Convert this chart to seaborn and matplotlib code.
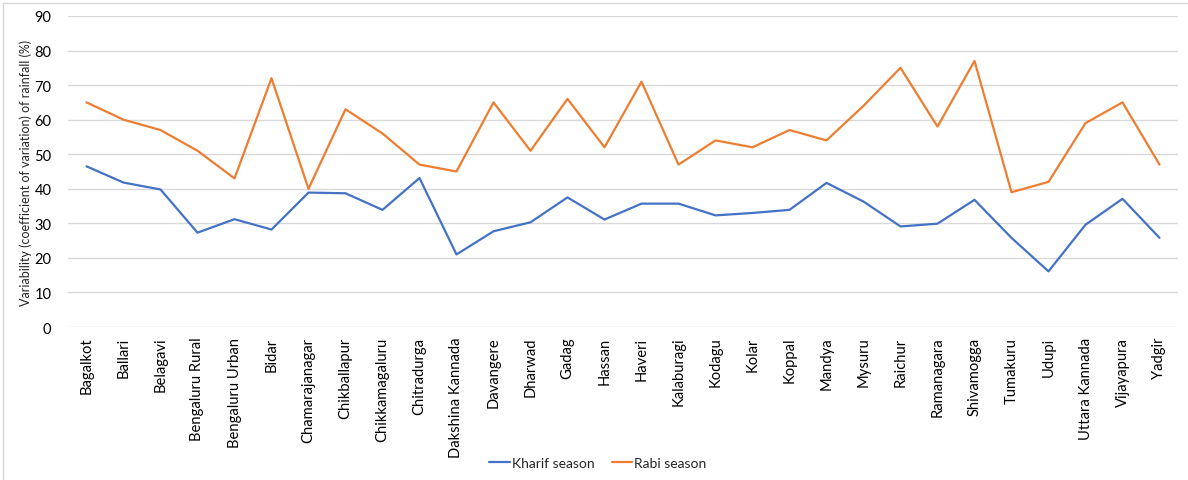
import matplotlib
matplotlib.use("Agg")
import matplotlib.pyplot as plt
import pandas as pd
import seaborn as sns
from matplotlib.lines import Line2D

districts = [
    "Bagalkot", "Ballari", "Belagavi", "Bengaluru Rural", "Bengaluru Urban",
    "Bidar", "Chamarajanagar", "Chikballapur", "Chikkamagaluru", "Chitradurga",
    "Dakshina Kannada", "Davangere", "Dharwad", "Gadag", "Hassan", "Haveri",
    "Kalaburagi", "Kodagu", "Kolar", "Koppal", "Mandya", "Mysuru", "Raichur",
    "Ramanagara", "Shivamogga", "Tumakuru", "Udupi", "Uttara Kannada",
    "Vijayapura", "Yadgir",
]
kharif = [46.5, 41.8, 39.8, 27.3, 31.2, 28.2, 38.9, 38.7, 33.9, 43.1,
          21.0, 27.7, 30.3, 37.5, 31.1, 35.7, 35.7, 32.3, 33.0, 33.9,
          41.7, 36.3, 29.1, 29.9, 36.8, 25.8, 16.1, 29.6, 37.1, 25.8]
rabi = [65, 60, 57, 51, 43, 72, 40, 63, 56, 47,
        45, 65, 51, 66, 52, 71, 47, 54, 52, 57,
        54, 64, 75, 58, 77, 39, 42, 59, 65, 47]
seasons = ["Kharif season", "Rabi season"]
colors = ["#4472C4", "#ED7D31"]
y_ticks = list(range(0, 100, 10))
y_label = "Variability (coefficient of variation) of rainfall (%)"

df = pd.DataFrame({
    "pos": list(range(len(districts))) * 2,
    "cv": kharif + rabi,
    "season": [seasons[0]] * len(districts) + [seasons[1]] * len(districts),
})

sns.set_theme(style="white")
plt.rcParams["font.family"] = ["Lato", "DejaVu Sans"]

W, H = 1188, 481
fig = plt.figure(figsize=(W / 100, H / 100), dpi=100)
ax = fig.add_axes([68 / W, 1 - 328 / H, 1110 / W, 311 / H])

# horizontal gridlines
for y in y_ticks:
    ax.axhline(y, color="#d9d9d9", lw=1.0, zorder=0)

sns.lineplot(data=df, x="pos", y="cv", hue="season", hue_order=seasons,
             palette=colors, linewidth=1.6, ax=ax,
             legend=False, estimator=None, sort=False)

ax.set_xlim(-0.5, len(districts) - 0.5)
ax.set_ylim(0, 90)
ax.set_xticks(range(len(districts)))
ax.set_xticklabels(districts, rotation=90, fontsize=10.6, color="#000000")
ax.set_yticks(y_ticks)
ax.set_yticklabels([str(v) for v in y_ticks], fontsize=10.5, color="#000000")
ax.tick_params(axis="x", length=0, pad=7)
ax.tick_params(axis="y", length=0, pad=12)
ax.set_xlabel("")
ax.set_ylabel(y_label, fontsize=9.0)
ax.yaxis.set_label_coords(-36 / 1110, (328 - 173) / 311)
for s in ax.spines.values():
    s.set_visible(False)

handles = [Line2D([], [], color=c, lw=1.6) for c in colors]
fig.legend(handles, seasons, loc="center", bbox_to_anchor=(598 / W, 1 - 464 / H),
           ncol=2, frameon=False, fontsize=10, handlelength=1.5,
           handletextpad=0.15, columnspacing=1.2)

# chart-area border along the top and left edges
fig.add_artist(Line2D([3 / W, 1], [1 - 4 / H, 1 - 4 / H], transform=fig.transFigure,
                      color="#d9d9d9", lw=1.0))
fig.add_artist(Line2D([3 / W, 3 / W], [0, 1 - 4 / H], transform=fig.transFigure,
                      color="#d9d9d9", lw=1.0))

fig.savefig("out.png", dpi=100)
